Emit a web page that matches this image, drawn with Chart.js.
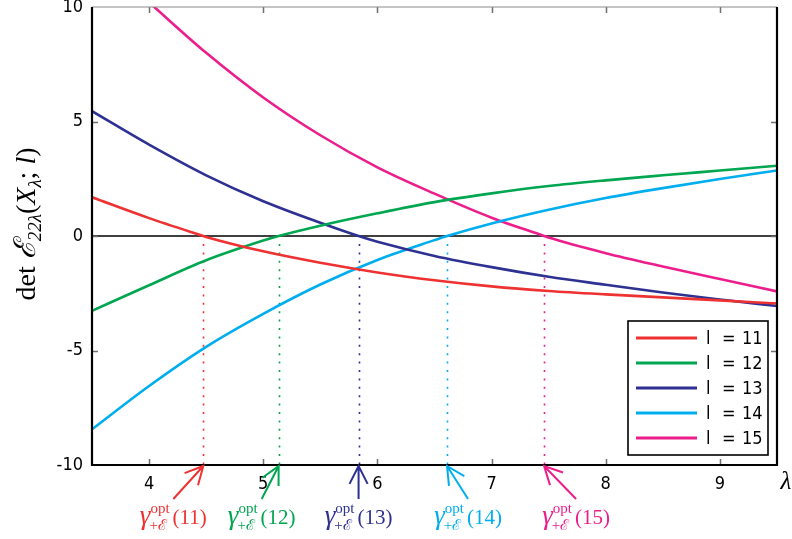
<!DOCTYPE html>
<html>
<head>
<meta charset="utf-8">
<script src="https://cdn.jsdelivr.net/npm/chart.js@4.4.1/dist/chart.umd.min.js"></script>
<style>
  html, body { margin: 0; padding: 0; background: #ffffff; }
  #wrap { width: 792px; height: 539px; }
</style>
</head>
<body>
<div id="wrap"><canvas id="chart" width="792" height="539"></canvas></div>
<script>
// Sample points along the lambda axis
const LAMBDA = [3.5, 4.0, 4.5, 5.0, 5.5, 6.0, 6.5, 7.0, 7.5, 8.0, 8.5, 9.0, 9.5];

// det E_{22 lambda}(X_lambda; l) for each l
const L_VALUES = [11, 12, 13, 14, 15];
const DET_L11 = [1.69, 0.78, -0.04, -0.67, -1.17, -1.59, -1.93, -2.20, -2.40, -2.55, -2.68, -2.81, -2.95];
const DET_L12 = [-3.27, -2.15, -1.06, -0.20, 0.45, 0.99, 1.48, 1.86, 2.18, 2.43, 2.65, 2.86, 3.07];
const DET_L13 = [5.45, 3.99, 2.65, 1.52, 0.58, -0.25, -0.87, -1.36, -1.78, -2.13, -2.47, -2.77, -3.06];
const DET_L14 = [-8.44, -6.55, -4.84, -3.40, -2.12, -1.05, -0.18, 0.55, 1.15, 1.66, 2.09, 2.49, 2.86];
const DET_L15 = [null, 10.2, 8.0, 6.05, 4.4, 3.0, 1.85, 0.8, -0.07, -0.75, -1.33, -1.88, -2.42];

// Zero crossings gamma^opt_{+E}(l)
const ROOTS = [4.475, 5.135, 5.835, 6.61, 7.46];

// Axis ticks
const X_TICKS = [4, 5, 6, 7, 8, 9];
const Y_TICKS = [-10, -5, 0, 5, 10];

const COLORS = ['#ee3131', '#00a650', '#2e3192', '#00aeef', '#ec1e8c'];

const SERIES = [DET_L11, DET_L12, DET_L13, DET_L14, DET_L15];

function buildPoints(values, root) {
  const pts = [];
  LAMBDA.forEach((x, i) => { if (values[i] !== null) pts.push({ x: x, y: values[i] }); });
  pts.push({ x: root, y: 0 });
  pts.sort((a, b) => a.x - b.x);
  return pts;
}

const datasets = SERIES.map((vals, i) => ({
  label: 'l = ' + L_VALUES[i],
  data: buildPoints(vals, ROOTS[i]),
  borderColor: COLORS[i],
  backgroundColor: COLORS[i],
  borderWidth: 2.6,
  pointRadius: 0,
  cubicInterpolationMode: 'monotone',
  clip: 0,
  fill: false
}));

const TICK_FONT = "'Liberation Sans Narrow', 'DejaVu Sans Condensed', 'Arial Narrow', sans-serif";
const SERIF = "'Liberation Serif', 'DejaVu Serif', serif";

// Frame, inner tick marks, zero line and the dotted root markers
const framePlugin = {
  id: 'frame',
  beforeDatasetsDraw(chart) {
    const { ctx, chartArea: a, scales: { x, y } } = chart;
    ctx.save();
    // dotted verticals from the zero line down to the axis
    const y0 = y.getPixelForValue(0);
    ROOTS.forEach((r, i) => {
      const px = Math.round(x.getPixelForValue(r)) + 0.5;
      ctx.strokeStyle = COLORS[i];
      ctx.lineWidth = 1.6;
      ctx.setLineDash([2, 6.4]);
      ctx.beginPath();
      ctx.moveTo(px, y0 + 8);
      ctx.lineTo(px, a.bottom);
      ctx.stroke();
    });
    ctx.setLineDash([]);
    // zero line
    ctx.strokeStyle = '#000';
    ctx.lineWidth = 1.4;
    ctx.beginPath();
    ctx.moveTo(a.left, y0);
    ctx.lineTo(a.right, y0);
    ctx.stroke();
    ctx.restore();
  },
  afterDatasetsDraw(chart) {
    const { ctx, chartArea: a, scales: { x, y } } = chart;
    ctx.save();
    // tick marks pointing inward
    ctx.strokeStyle = '#707070';
    ctx.lineWidth = 1.5;
    const tl = 6;
    X_TICKS.forEach(v => {
      const px = Math.round(x.getPixelForValue(v)) + 0.5;
      ctx.beginPath();
      ctx.moveTo(px, a.bottom); ctx.lineTo(px, a.bottom - tl);
      ctx.moveTo(px, a.top); ctx.lineTo(px, a.top + tl);
      ctx.stroke();
    });
    Y_TICKS.forEach(v => {
      if (v === Y_TICKS[0] || v === Y_TICKS[Y_TICKS.length - 1]) return;
      const py = Math.round(y.getPixelForValue(v)) + 0.5;
      ctx.beginPath();
      ctx.moveTo(a.left, py); ctx.lineTo(a.left + tl, py);
      ctx.moveTo(a.right, py); ctx.lineTo(a.right - tl, py);
      ctx.stroke();
    });
    // frame
    ctx.strokeStyle = '#8a8a8a';
    ctx.lineWidth = 1.2;
    ctx.beginPath();
    ctx.moveTo(a.left, a.top); ctx.lineTo(a.right, a.top);
    ctx.stroke();
    ctx.strokeStyle = '#000';
    ctx.lineWidth = 2.2;
    ctx.beginPath();
    ctx.moveTo(a.left, a.top); ctx.lineTo(a.left, a.bottom);
    ctx.lineTo(a.right, a.bottom); ctx.lineTo(a.right, a.top);
    ctx.stroke();

    // legend box
    const bx = 628, by = 321, bw = 140, bh = 134;
    ctx.fillStyle = '#fff';
    ctx.fillRect(bx, by, bw, bh);
    ctx.strokeStyle = '#000';
    ctx.lineWidth = 1.6;
    ctx.strokeRect(bx, by, bw, bh);
    ctx.font = '18px ' + TICK_FONT;
    ctx.textBaseline = 'middle';
    chart.data.datasets.forEach((ds, i) => {
      const ry = by + 17 + i * 25;
      ctx.strokeStyle = ds.borderColor;
      ctx.lineWidth = 3;
      ctx.beginPath();
      ctx.moveTo(bx + 8, ry); ctx.lineTo(bx + 69, ry);
      ctx.stroke();
      ctx.fillStyle = '#000';
      const parts = ds.label.split(' ');
      ctx.textAlign = 'left';
      ctx.fillText(parts[0], bx + 78, ry + 1);
      ctx.fillText(parts[1], bx + 94, ry + 1);
      ctx.fillText(parts[2], bx + 114, ry + 1);
    });
    ctx.restore();
  }
};

// gamma^{opt}_{+E}(l) label centred at cx
function gammaLabelWidth(ctx, l) {
  ctx.font = 'italic 27px ' + SERIF;
  const wg = ctx.measureText('\u03B3').width;
  ctx.font = '15px ' + SERIF;
  const wsup = ctx.measureText('opt').width;
  const wsub = ctx.measureText('+\u2130').width;
  ctx.font = '21px ' + SERIF;
  const wp = ctx.measureText('(' + l + ')').width;
  return { wg, wsup, wsub, wp, total: wg + Math.max(wsup, wsub) + 3 + wp };
}

function drawGammaLabel(ctx, cx, base, l, color) {
  const m = gammaLabelWidth(ctx, l);
  let x0 = cx - m.total / 2;
  ctx.fillStyle = color;
  ctx.textAlign = 'left';
  ctx.textBaseline = 'alphabetic';
  ctx.font = 'italic 27px ' + SERIF;
  ctx.fillText('\u03B3', x0, base);
  const xs = x0 + m.wg;
  ctx.font = '15px ' + SERIF;
  ctx.fillText('opt', xs, base - 11);
  ctx.fillText('+\u2130', xs - 1, base + 6);
  ctx.font = '21px ' + SERIF;
  ctx.fillText('(' + l + ')', xs + Math.max(m.wsup, m.wsub) + 3, base);
}

// arrows and labels for the zero crossings, plus axis titles
const LABEL_SHIFT = [-30, -17, 0, 21, 32];
const annotationPlugin = {
  id: 'rootLabels',
  afterDraw(chart) {
    const { ctx, chartArea: a, scales: { x } } = chart;
    ctx.save();
    ROOTS.forEach((r, i) => {
      const tx = x.getPixelForValue(r);
      const ty = a.bottom + 1;
      const cx = tx + LABEL_SHIFT[i];
      const sx = cx, sy = ty + 33;
      const ang = Math.atan2(sy - ty, sx - tx);
      const hl = 20, spread = 0.47;
      ctx.strokeStyle = COLORS[i];
      ctx.lineWidth = 2;
      ctx.lineCap = 'butt';
      ctx.beginPath();
      ctx.moveTo(sx, sy); ctx.lineTo(tx, ty);
      ctx.moveTo(tx + hl * Math.cos(ang - spread), ty + hl * Math.sin(ang - spread));
      ctx.lineTo(tx, ty);
      ctx.lineTo(tx + hl * Math.cos(ang + spread), ty + hl * Math.sin(ang + spread));
      ctx.stroke();
      drawGammaLabel(ctx, cx, 524, L_VALUES[i], COLORS[i]);
    });

    // x title
    ctx.fillStyle = '#000';
    ctx.font = 'italic 25px ' + SERIF;
    ctx.textAlign = 'center';
    ctx.textBaseline = 'middle';
    ctx.fillText('\u03BB', 786, 482);

    // y title: det E_{22 lambda}(X_lambda; l)
    const pieces = [
      { t: 'det ', f: '28px ' + SERIF, dy: 0 },
      { t: '\u2130', f: 'italic 30px ' + SERIF, dy: 0 },
      { t: '22\u03BB', f: 'italic 19px ' + SERIF, dy: 6 },
      { t: '(', f: '28px ' + SERIF, dy: 0 },
      { t: 'X', f: 'italic 28px ' + SERIF, dy: 0 },
      { t: '\u03BB', f: 'italic 19px ' + SERIF, dy: 6 },
      { t: '; ', f: '28px ' + SERIF, dy: 0 },
      { t: 'l', f: 'italic 28px ' + SERIF, dy: 0 },
      { t: ')', f: '28px ' + SERIF, dy: 0 }
    ];
    let total = 0;
    pieces.forEach(p => { ctx.font = p.f; p.w = ctx.measureText(p.t).width; total += p.w; });
    ctx.translate(35, 224);
    ctx.rotate(-Math.PI / 2);
    ctx.textAlign = 'left';
    ctx.textBaseline = 'alphabetic';
    let px = -total / 2;
    pieces.forEach(p => {
      ctx.font = p.f;
      ctx.fillText(p.t, px, p.dy);
      px += p.w;
    });
    ctx.restore();
  }
};

new Chart(document.getElementById('chart'), {
  type: 'line',
  data: { datasets: datasets },
  options: {
    responsive: false,
    animation: false,
    devicePixelRatio: 1,
    layout: { padding: { top: 7, right: 15, left: 0, bottom: 0 } },
    plugins: { legend: { display: false }, tooltip: { enabled: false } },
    scales: {
      x: {
        type: 'linear',
        min: 3.5,
        max: 9.5,
        grid: { display: false },
        border: { display: false },
        ticks: { color: '#000', font: { family: TICK_FONT, size: 18 }, padding: 1 },
        afterBuildTicks: s => { s.ticks = X_TICKS.map(v => ({ value: v })); },
        afterFit: s => { s.height = 74; s.paddingLeft = 0; s.paddingRight = 0; }
      },
      y: {
        type: 'linear',
        min: -10,
        max: 10,
        grid: { display: false },
        border: { display: false },
        ticks: { color: '#000', font: { family: TICK_FONT, size: 18 }, padding: 1 },
        afterBuildTicks: s => { s.ticks = Y_TICKS.map(v => ({ value: v })); },
        afterFit: s => { s.width = 92; s.paddingTop = 0; s.paddingBottom = 0; }
      }
    }
  },
  plugins: [framePlugin, annotationPlugin]
});
</script>
</body>
</html>
